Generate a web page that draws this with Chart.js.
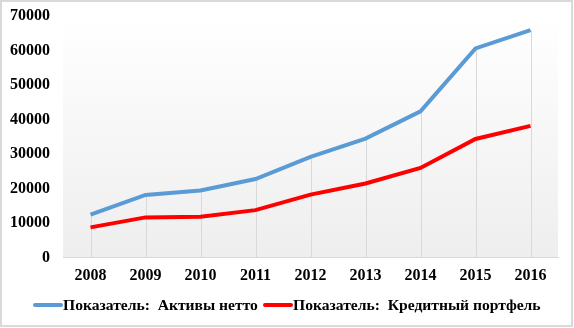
<!DOCTYPE html>
<html>
<head>
<meta charset="utf-8">
<script src="https://cdn.jsdelivr.net/npm/chart.js@4/dist/chart.umd.min.js"></script>
<style>
html,body{margin:0;padding:0;background:#fff;}
#wrap{width:574px;height:328px;position:relative;}
#legend{position:absolute;left:0;top:295px;width:574px;height:20px;font:bold 15.6px "Liberation Serif","Times New Roman",serif;color:#000;}
.item{position:absolute;top:0;height:20px;line-height:20px;white-space:nowrap;display:flex;align-items:center;}
.swatch{display:inline-block;width:30px;height:4px;border-radius:2px;margin-right:0;}
</style>
</head>
<body>
<div id="wrap"><canvas id="c" width="574" height="328"></canvas><div id="legend"></div></div>
<script>
const categories = ['2008','2009','2010','2011','2012','2013','2014','2015','2016'];
const assetsNet = [12500, 18200, 19500, 22800, 29200, 34500, 42400, 60600, 65900];
const loanPortfolio = [8800, 11700, 11900, 13800, 18300, 21500, 26000, 34400, 38200];
const seriesNames = ['Показатель:  Активы нетто', 'Показатель:  Кредитный портфель'];
const seriesColors = ['#5b9bd5', '#ff0000'];
const yTicks = [0, 10000, 20000, 30000, 40000, 50000, 60000, 70000];

const bgPlugin = {
  id: 'bgPlugin',
  beforeDraw(chart) {
    const {ctx, chartArea: a} = chart;
    ctx.save();
    ctx.fillStyle = '#fff';
    ctx.fillRect(0, 0, chart.width, chart.height);
    const g = ctx.createLinearGradient(0, a.top, 0, a.bottom);
    g.addColorStop(0, '#ffffff');
    g.addColorStop(1, '#eeeeee');
    ctx.fillStyle = g;
    ctx.fillRect(a.left, a.top, a.right - a.left, a.bottom - a.top);
    ctx.restore();
  },
  beforeDatasetsDraw(chart) {
    const {ctx} = chart;
    const x = chart.scales.x, y = chart.scales.y;
    ctx.save();
    ctx.strokeStyle = '#d9d9d9';
    ctx.lineWidth = 1;
    categories.forEach((c, i) => {
      const top = Math.max(assetsNet[i], loanPortfolio[i]);
      const px = Math.round(x.getPixelForValue(i)) + 0.5;
      ctx.beginPath();
      ctx.moveTo(px, y.getPixelForValue(top));
      ctx.lineTo(px, y.getPixelForValue(0));
      ctx.stroke();
    });
    ctx.restore();
  },
  afterDraw(chart) {
    const {ctx} = chart;
    ctx.save();
    ctx.strokeStyle = '#d9d9d9';
    ctx.lineWidth = 2;
    ctx.strokeRect(1, 1, 571, 325);
    ctx.restore();
  }
};

const serif = '"Liberation Serif", "Times New Roman", serif';

const chart = new Chart(document.getElementById('c'), {
  type: 'line',
  data: {
    labels: categories,
    datasets: [
      {label: seriesNames[0], data: assetsNet, borderColor: seriesColors[0], backgroundColor: seriesColors[0], borderWidth: 4, pointRadius: 0, tension: 0},
      {label: seriesNames[1], data: loanPortfolio, borderColor: seriesColors[1], backgroundColor: seriesColors[1], borderWidth: 4, pointRadius: 0, tension: 0}
    ]
  },
  options: {
    responsive: false,
    animation: false,
    layout: {padding: {top: 16, right: 16, left: 8, bottom: 35}},
    plugins: {
      tooltip: {enabled: false},
      legend: {display: false}
    },
    scales: {
      x: {
        offset: true,
        grid: {display: false, drawTicks: false},
        border: {display: true, color: '#d9d9d9', width: 1},
        ticks: {color: '#000', padding: 8, font: {family: serif, size: 16, weight: 'bold'}}
      },
      y: {
        min: 0, max: 70000,
        afterBuildTicks(scale) { scale.ticks = yTicks.map(v => ({value: v})); },
        afterFit(scale) { scale.width = 55; scale.paddingTop = 0; scale.paddingBottom = 0; },
        grid: {display: false, drawTicks: false},
        border: {display: false},
        ticks: {color: '#000', padding: 13, callback: v => String(v), font: {family: serif, size: 16, weight: 'bold'}}
      }
    }
  },
  plugins: [bgPlugin]
});

// HTML legend built from the chart's datasets
const legendLefts = [33, 263];
const legend = document.getElementById('legend');
chart.data.datasets.forEach((d, i) => {
  const item = document.createElement('div');
  item.className = 'item';
  item.style.left = legendLefts[i] + 'px';
  const sw = document.createElement('span');
  sw.className = 'swatch';
  sw.style.background = d.borderColor;
  const tx = document.createElement('span');
  tx.textContent = d.label;
  tx.style.whiteSpace = 'pre';
  item.appendChild(sw);
  item.appendChild(tx);
  legend.appendChild(item);
});
</script>
</body>
</html>
